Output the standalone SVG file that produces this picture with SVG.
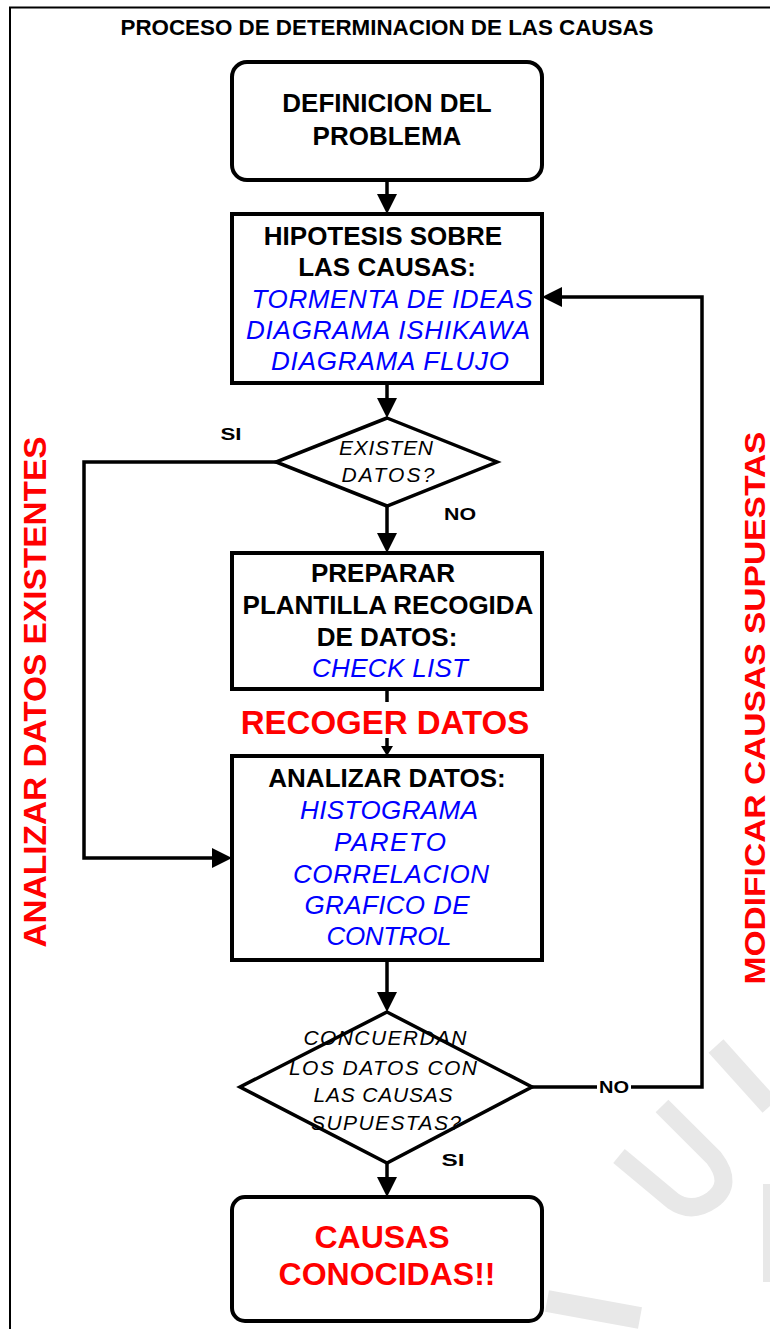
<svg xmlns="http://www.w3.org/2000/svg" width="770" height="1329" viewBox="0 0 770 1329">
  <style>
    .frame { fill: none; stroke: #000; stroke-width: 2; }
    .box { fill: #fff; stroke: #000; stroke-width: 4; }
    .dia { fill: #fff; stroke: #000; stroke-width: 3.5; stroke-linejoin: miter; }
    .wire { fill: none; stroke: #000; stroke-width: 3.5; }
    .t { font-family: "Liberation Sans", Arial, sans-serif; text-anchor: middle; }
    .head { font-weight: bold; font-size: 26px; fill: #000; }
    .tool { font-style: italic; font-size: 26px; fill: #0000ff; }
    .ask { font-style: italic; font-size: 21px; fill: #000; }
    .lbl { font-weight: bold; font-size: 17px; fill: #000; }
    .red { font-weight: bold; fill: #ff0000; }
    .mark { fill: none; stroke: #e8e8e8; stroke-linecap: butt; }
  </style>
  <defs>
    <marker id="ah" viewBox="0 0 20 20" refX="0" refY="10" markerWidth="20" markerHeight="20" orient="auto" markerUnits="userSpaceOnUse">
      <path d="M0,0 L20,10 L0,20 Z" fill="#000"/>
    </marker>
    <marker id="ahs" viewBox="0 0 10 12" refX="0" refY="6" markerWidth="10" markerHeight="12" orient="auto" markerUnits="userSpaceOnUse">
      <path d="M0,0 L10,6 L0,12 Z" fill="#000"/>
    </marker>
  </defs>

  <rect width="770" height="1329" fill="#fff"/>

  <!-- faint background watermark strokes -->
  <g id="watermark">
    <path class="mark" stroke-width="20" d="M716,1046 L770,1106"/>
    <path class="mark" stroke-width="18" d="M662,1106 L714,1158 Q734,1184 712,1200 Q692,1214 673,1201 L619,1156"/>
    <path class="mark" stroke-width="8" d="M767,1184 L767,1282"/>
    <path class="mark" stroke-width="22" d="M547,1301 L640,1318"/>
  </g>

  <!-- page frame -->
  <path class="frame" d="M10,1329 L10,7.5 L770,7.5"/>

  <text class="t" x="387" y="35" font-weight="bold" font-size="22" textLength="533" lengthAdjust="spacingAndGlyphs">PROCESO DE DETERMINACION DE LAS CAUSAS</text>

  <!-- connectors -->
  <g id="connectors">
    <path class="wire" d="M387,180 V194" marker-end="url(#ah)"/>
    <path class="wire" d="M387,383 V398" marker-end="url(#ah)"/>
    <path class="wire" d="M387,506 V533" marker-end="url(#ah)"/>
    <path class="wire" d="M387,689 V702"/>
    <path class="wire" d="M387,738 V746" marker-end="url(#ahs)"/>
    <path class="wire" d="M276,462 H84 V858 H212" marker-end="url(#ah)"/>
    <path class="wire" d="M387,960 V992" marker-end="url(#ah)"/>
    <path class="wire" d="M532,1087 H597"/>
    <path class="wire" d="M631,1087 H702 V297 H562" marker-end="url(#ah)"/>
    <path class="wire" d="M387,1163 V1177" marker-end="url(#ah)"/>
    <text class="t lbl" x="231" y="440" textLength="21" lengthAdjust="spacingAndGlyphs">SI</text>
    <text class="t lbl" x="460" y="520" textLength="32" lengthAdjust="spacingAndGlyphs">NO</text>
    <text class="t lbl" x="614" y="1093" textLength="30" lengthAdjust="spacingAndGlyphs">NO</text>
    <text class="t lbl" x="453" y="1166" textLength="23" lengthAdjust="spacingAndGlyphs">SI</text>
  </g>

  <g id="definicion">
    <rect class="box" x="232" y="62" width="310" height="118" rx="15" ry="15" stroke-width="3.5"/>
    <text class="t head" x="387" y="112">DEFINICION DEL</text>
    <text class="t head" x="387" y="145">PROBLEMA</text>
  </g>

  <g id="hipotesis">
    <rect class="box" x="232" y="214" width="310" height="169"/>
    <text class="t head" x="383" y="245">HIPOTESIS SOBRE</text>
    <text class="t head" x="387" y="276">LAS CAUSAS:</text>
    <text class="t tool" x="392" y="308" textLength="281" lengthAdjust="spacing">TORMENTA DE IDEAS</text>
    <text class="t tool" x="388" y="339" textLength="284" lengthAdjust="spacing">DIAGRAMA ISHIKAWA</text>
    <text class="t tool" x="390" y="370" textLength="238" lengthAdjust="spacing">DIAGRAMA FLUJO</text>
  </g>

  <g id="existen">
    <polygon class="dia" points="387,418 497,462 387,506 276,462"/>
    <text class="t ask" x="386" y="455" textLength="94" lengthAdjust="spacing">EXISTEN</text>
    <text class="t ask" x="388" y="482" textLength="93" lengthAdjust="spacing">DATOS?</text>
  </g>

  <g id="preparar">
    <rect class="box" x="232" y="553" width="310" height="136"/>
    <text class="t head" x="383" y="582">PREPARAR</text>
    <text class="t head" x="388" y="614">PLANTILLA RECOGIDA</text>
    <text class="t head" x="387" y="646">DE DATOS:</text>
    <text class="t tool" x="390" y="677" textLength="156" lengthAdjust="spacing">CHECK LIST</text>
  </g>

  <text id="recoger" class="t red" x="385" y="734" font-size="33">RECOGER DATOS</text>

  <g id="analizar">
    <rect class="box" x="232" y="756" width="310" height="204"/>
    <text class="t head" x="387" y="787">ANALIZAR DATOS:</text>
    <text class="t tool" x="389" y="819" textLength="178" lengthAdjust="spacing">HISTOGRAMA</text>
    <text class="t tool" x="390" y="851" textLength="112" lengthAdjust="spacing">PARETO</text>
    <text class="t tool" x="391" y="883" textLength="196" lengthAdjust="spacing">CORRELACION</text>
    <text class="t tool" x="387" y="914" textLength="165" lengthAdjust="spacing">GRAFICO DE</text>
    <text class="t tool" x="389" y="945" textLength="125" lengthAdjust="spacing">CONTROL</text>
  </g>

  <g id="concuerdan">
    <polygon class="dia" points="387,1012 532,1087 387,1163 240,1087"/>
    <text class="t ask" x="385" y="1045" textLength="163" lengthAdjust="spacing">CONCUERDAN</text>
    <text class="t ask" x="383" y="1075" textLength="188" lengthAdjust="spacing">LOS DATOS CON</text>
    <text class="t ask" x="383" y="1102" textLength="139" lengthAdjust="spacing">LAS CAUSAS</text>
    <text class="t ask" x="386" y="1130" textLength="150" lengthAdjust="spacing">SUPUESTAS?</text>
  </g>

  <g id="conocidas">
    <rect class="box" x="232" y="1197" width="310" height="124" rx="13" ry="13" stroke-width="3.5"/>
    <text class="t red" x="382" y="1248" font-size="32">CAUSAS</text>
    <text class="t red" x="387" y="1285" font-size="32">CONOCIDAS!!</text>
  </g>

  <text id="analizar-existentes" class="t red" font-size="32" textLength="511" lengthAdjust="spacingAndGlyphs" transform="translate(46,692) rotate(-90)">ANALIZAR DATOS EXISTENTES</text>
  <text id="modificar-causas" class="t red" font-size="30" textLength="553" lengthAdjust="spacingAndGlyphs" transform="translate(765,708) rotate(-90)">MODIFICAR CAUSAS SUPUESTAS</text>
</svg>
